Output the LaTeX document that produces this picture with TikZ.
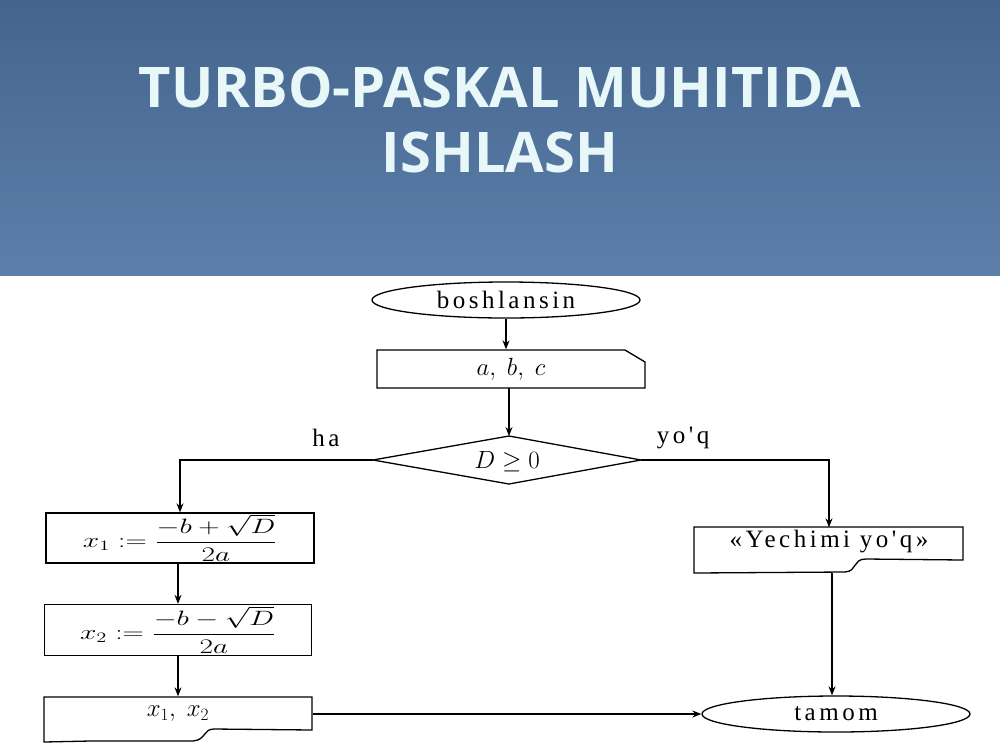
\documentclass[tikz,border=0pt]{standalone}
\usepackage{fontspec}
\usepackage{graphicx}
\usetikzlibrary{shapes.geometric,arrows.meta}
\setmainfont{Liberation Serif}
\newfontfamily\titlefont{Open Sans}
\newfontfamily\fcf[LetterSpace=14]{Liberation Serif}
\definecolor{hdtop}{RGB}{68,100,141}
\definecolor{hdbot}{RGB}{92,128,170}
\definecolor{ttl}{RGB}{232,248,248}
\begin{document}
\begin{tikzpicture}[x=1pt,y=-1pt,line width=1.3pt,
  arr/.style={-{Stealth[length=9pt,width=7pt]}},
  lbl/.style={inner sep=0pt,font=\fcf\fontsize{25}{28}\selectfont},
  mth/.style={inner sep=0pt,font=\fontsize{24}{28}\selectfont},
  procbox/.style={draw,rectangle,inner sep=0pt,minimum width=268pt},
  term/.style={draw,ellipse,inner sep=0pt,minimum width=268pt,minimum height=36pt,font=\fcf\fontsize{25}{28}\selectfont}]
\useasboundingbox (0,0) rectangle (1000,750);
\fill[white] (0,0) rectangle (1000,750);
\shade[top color=hdtop,bottom color=hdbot] (0,0) rectangle (1000,275);
\node[text=ttl,font=\titlefont\bfseries\fontsize{56}{65}\selectfont,align=center] (title) at (500,120) {TURBO-PASKAL MUHITIDA\\ISHLASH};

% start
\node[term] (start) at (506,300) {boshlansin};
% input
\node[mth,minimum width=268pt,minimum height=38pt] (inp) at (511,369) {\fontsize{27}{30}\selectfont$a,\ b,\ c$};
\draw (377,350) -- (625,350) -- (645,362) -- (645,388) -- (377,388) -- cycle;
\draw[arr] (start.south) -- (start.south |- inp.north);

% decision
\coordinate (decT) at (509,436);
\coordinate (decB) at (509,484);
\coordinate (decL) at (373,460);
\coordinate (decR) at (641,460);
\draw (decT) -- (decR) -- (decB) -- (decL) -- cycle;
\node[mth] (dec) at (507,462) {\fontsize{27}{30}\selectfont$D \geq 0$};
\coordinate (inpB) at (509,388);
\draw[arr] (inpB) -- (decT);
\node[lbl] (ha) at (326,438) {ha};
\node[lbl] (yoq) at (683,438) {yo\char"27 q};

% left branch
\node[procbox,minimum height=50pt,mth] (x1) at (180,538) {\fontsize{20.5}{22}\selectfont\scalebox{1.42}[1]{$x_1 := \displaystyle\frac{-b+\sqrt{D}}{2a}$}};
\node[procbox,minimum height=51pt,mth,minimum width=267pt] (x2) at (178,630) {\fontsize{20.5}{22}\selectfont\scalebox{1.42}[1]{$x_2 := \displaystyle\frac{-b-\sqrt{D}}{2a}$}};
\draw[arr] (decL) -| (x1.north);
\draw[arr] (x1.south -| x2.north) -- (x2.north);

% output x1, x2
\node[mth,minimum width=268pt,minimum height=34pt] (out) at (178,714) {\fontsize{27}{30}\selectfont$x_1,\ x_2$};
\draw (44,697) -- (312,697) -- (312,730) -- (214,729) .. controls (203,729) and (206,740) .. (193,741) -- (90,741) -- (44,742) -- cycle;
\draw[arr] (x2.south) -- (x2.south |- out.north);

% right branch
\node[lbl,minimum width=269pt,minimum height=28pt] (no) at (829,542) {«Yechimi yo\char"27 q»};
\draw (694,527) -- (963,527) -- (963,560) -- (866,559) .. controls (852,559) and (858,571) .. (845,572) -- (694,573) -- cycle;
\draw[arr] (decR) -| (no.north);
\coordinate (noB) at (832,573);

% end
\node[term] (end) at (836,714) {tamom};
\draw[arr] (noB) -- (noB |- end.north);
\draw[arr] (out.east) -- (end.west);
\end{tikzpicture}
\end{document}
